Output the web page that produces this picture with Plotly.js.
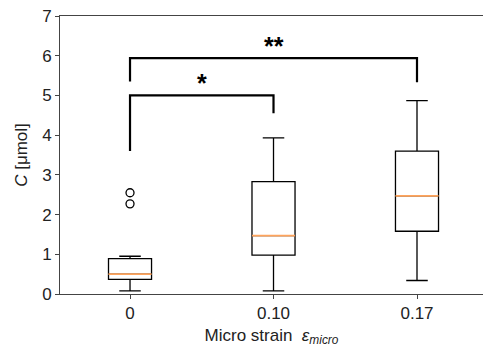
<!DOCTYPE html>
<html>
<head>
<meta charset="utf-8">
<script src="https://cdn.plot.ly/plotly-3.0.1.min.js"></script>
<style>html,body{margin:0;padding:0;background:#fff;overflow:hidden}</style>
</head>
<body>
<div id="chart" style="width:483px;height:348px"></div>
<script>
// Data
const categories = ["0", "0.10", "0.17"];
const positions = [0, 1, 2];
const lowerWhisker = [0.08, 0.08, 0.34];
const q1 = [0.37, 0.98, 1.58];
const median = [0.50, 1.47, 2.47];
const q3 = [0.89, 2.83, 3.60];
const upperWhisker = [0.95, 3.93, 4.87];
const outlierX = [0, 0];
const outlierY = [2.55, 2.27];
const bracket1X = [0, 0, 1, 1];
const bracket1Y = [3.6, 5.0, 5.0, 4.55];
const bracket2X = [0, 0, 2, 2];
const bracket2Y = [5.35, 5.94, 5.94, 5.33];
const sigLabels = ["*", "**"];
const sigX = [0.5, 1.0];
const sigY = [5.0, 5.94];

const boxWidth = 0.3;
const traces = [];
traces.push({
  type: 'box', x: positions, q1: q1, median: median, q3: q3,
  lowerfence: lowerWhisker, upperfence: upperWhisker,
  width: boxWidth, whiskerwidth: 0.5,
  fillcolor: 'rgba(0,0,0,0)', line: {color: '#000', width: 1.3},
  boxpoints: false, hoverinfo: 'skip', showlegend: false
});
// medians (orange)
const mx = [], my = [];
positions.forEach((p, i) => { mx.push(p - boxWidth/2, p + boxWidth/2, null); my.push(median[i], median[i], null); });
traces.push({type:'scatter', mode:'lines', x: mx, y: my, line:{color:'#ffa45c', width:1.6}, showlegend:false, hoverinfo:'skip'});
traces.push({type:'scatter', mode:'markers', x: outlierX, y: outlierY,
  marker:{symbol:'circle-open', size:8, color:'#000', line:{width:1.3}}, showlegend:false, hoverinfo:'skip'});
traces.push({type:'scatter', mode:'lines', x: bracket1X, y: bracket1Y, line:{color:'#000', width:2.2}, showlegend:false, hoverinfo:'skip', cliponaxis:false});
traces.push({type:'scatter', mode:'lines', x: bracket2X, y: bracket2Y, line:{color:'#000', width:2.2}, showlegend:false, hoverinfo:'skip', cliponaxis:false});

const annotations = sigLabels.map((t, i) => ({
  x: sigX[i], y: sigY[i], xref:'x', yref:'y', text: '<b>' + t + '</b>', showarrow:false,
  yanchor:'bottom', yshift: -4, font:{family:'Liberation Sans, Arial, sans-serif', size:25, color:'#000'}
}));

const layout = {
  width: 483, height: 348,
  margin: {l: 60, r: 0, t: 16, b: 54},
  paper_bgcolor: '#fff', plot_bgcolor: '#fff',
  font: {family: 'Liberation Sans, Arial, sans-serif', size: 17, color: '#222'},
  xaxis: {
    range: [-0.488, 2.46], tickvals: positions, ticktext: categories,
    showgrid: false, zeroline: false, showline: true, mirror: true, linecolor: '#444', linewidth: 1,
    ticks: 'outside', ticklen: 4, tickcolor: '#444',
    title: {text: 'Micro strain  <i>ε</i><sub><i>micro</i></sub>', font: {size: 17, color:'#222'}, standoff: 6}
  },
  yaxis: {
    range: [0, 7], dtick: 1, showgrid: false, zeroline: false, showline: true, linecolor: '#444', linewidth: 1,
    ticks: 'outside', ticklen: 4, tickcolor: '#444',
    title: {text: '<i>C</i> [μmol]', font: {size: 17, color:'#222'}, standoff: 10}
  },
  annotations: annotations,
  showlegend: false
};
Plotly.newPlot('chart', traces, layout, {staticPlot: true, displayModeBar: false});
</script>
</body>
</html>
